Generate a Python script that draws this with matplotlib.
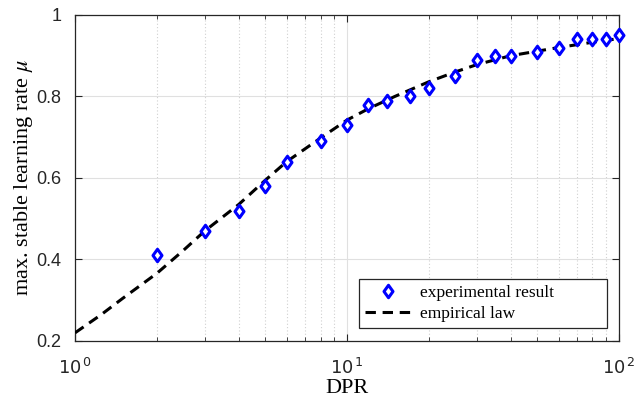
import matplotlib
matplotlib.use("Agg")
import matplotlib.pyplot as plt
from matplotlib.path import Path
from matplotlib.ticker import FixedLocator, NullFormatter

plt.rcParams['mathtext.fontset'] = 'custom'
plt.rcParams['mathtext.rm'] = 'Liberation Sans'
plt.rcParams['mathtext.it'] = 'Liberation Sans:italic'

# experimental results
dpr = [2, 3, 4, 5, 6, 8, 10, 12, 14, 17, 20, 25, 30, 35, 40, 50, 60, 70, 80, 90, 100]
mu = [0.41, 0.47, 0.52, 0.58, 0.64, 0.69, 0.73, 0.78, 0.79, 0.80, 0.82, 0.85,
      0.89, 0.90, 0.90, 0.91, 0.92, 0.94, 0.94, 0.94, 0.95]

# empirical law
law_x = [1, 1.25, 1.5, 2, 2.5, 3, 4, 5, 6, 8, 10, 12, 15, 20, 25, 30, 40, 50, 60, 80, 100]
law_y = [0.220, 0.265, 0.305, 0.366, 0.422, 0.470, 0.535, 0.594, 0.640, 0.698, 0.742,
         0.770, 0.800, 0.836, 0.860, 0.878, 0.900, 0.911, 0.920, 0.933, 0.942]

xticks = [1, 10, 100]
xticklabels = [r'$\mathregular{10^{\,0}}$', r'$\mathregular{10^{\,1}}$', r'$\mathregular{10^{\,2}}$']
yticks = [0.2, 0.4, 0.6, 0.8, 1.0]
yticklabels = ['0.2', '0.4', '0.6', '0.8', '1']

diamond = Path([(0, 1), (0.72, 0), (0, -1), (-0.72, 0), (0, 1)],
               [Path.MOVETO, Path.LINETO, Path.LINETO, Path.LINETO, Path.CLOSEPOLY])

fig = plt.figure(figsize=(6.36, 4.04), dpi=100)
ax = fig.add_axes([0.118, 0.156, 0.855, 0.807])

ax.set_xscale('log')
ax.set_xlim(1, 100)
ax.set_ylim(0.2, 1.0)

# grid
ax.xaxis.set_major_locator(FixedLocator(xticks))
minors = [m * d for d in (1, 10) for m in range(2, 10)]
ax.xaxis.set_minor_locator(FixedLocator(minors))
ax.xaxis.set_minor_formatter(NullFormatter())
ax.set_yticks(yticks)
ax.grid(True, which='major', axis='both', color='#e0e0e0', linewidth=0.8, linestyle='-')
ax.grid(True, which='minor', axis='x', color='#d0d0d0', linewidth=0.8, linestyle=(0, (1, 2)))
ax.set_axisbelow(True)

ax.plot(dpr, mu, linestyle='none', marker=diamond, markersize=9, markerfacecolor='white',
        markeredgecolor='#0000ff', markeredgewidth=2.2, label='experimental result',
        zorder=4, clip_on=False)
ax.plot(law_x, law_y, color='black', linewidth=2.2, dashes=(3.4, 2.2),
        label='empirical law', zorder=3)

ax.set_xticklabels(xticklabels, fontsize=13, math_fontfamily='custom')
ax.set_yticklabels(yticklabels, family='Liberation Sans', fontsize=13)
ax.tick_params(which='both', direction='in', top=True, right=True, color='#262626')
ax.tick_params(which='major', length=5, width=0.8, labelcolor='#262626')
ax.tick_params(which='minor', length=3, width=0.6)
ax.tick_params(axis='x', pad=12)
ax.tick_params(axis='y', pad=10)
for s in ax.spines.values():
    s.set_color('#262626')
    s.set_linewidth(0.9)

ax.set_xlabel('DPR', family='Liberation Serif', fontsize=16, labelpad=1)
ax.set_ylabel(r'max. stable learning rate $\mu$', family='Liberation Serif', fontsize=16,
              math_fontfamily='stix', labelpad=1)

leg = ax.legend(loc='lower left', bbox_to_anchor=(0.522, 0.04, 0.456, 0.16), mode='expand',
                frameon=True, fancybox=False,
                prop={'family': 'Liberation Serif', 'size': 12.5}, handlelength=2.7,
                borderpad=0.35, labelspacing=0.25, handletextpad=0.45, borderaxespad=0)
leg.get_frame().set_edgecolor('#262626')
leg.get_frame().set_linewidth(0.9)
leg.get_frame().set_alpha(1)
leg.set_zorder(10)

fig.savefig('out.png', dpi=100)
